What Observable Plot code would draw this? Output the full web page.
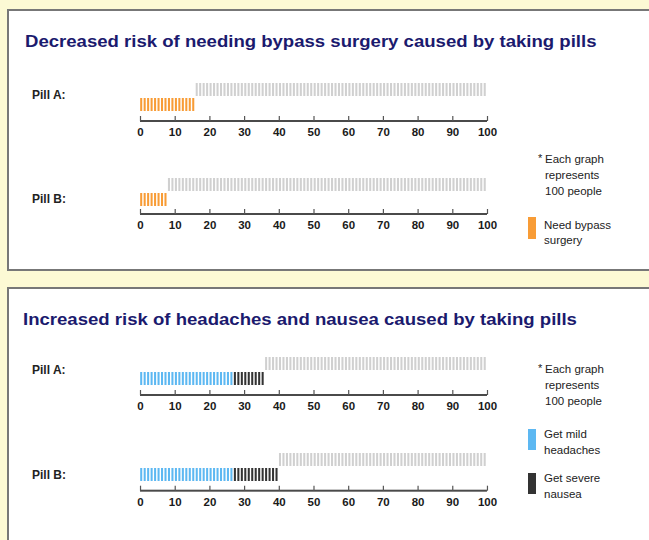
<!DOCTYPE html>
<html><head><meta charset="utf-8">
<script src="https://cdn.jsdelivr.net/npm/d3@7"></script>
<script src="https://cdn.jsdelivr.net/npm/@observablehq/plot@0.6"></script>
<style>
html,body{margin:0;padding:0;}
body{width:649px;height:540px;overflow:hidden;background:#fcf9d4;position:relative;font-family:"Liberation Sans",Arial,sans-serif;}
.panel{position:absolute;left:7px;width:660px;background:#fff;border:2px solid #777;box-sizing:border-box;}
.title{position:absolute;font-size:16px;font-weight:bold;color:#1b1a6e;line-height:16px;white-space:nowrap;transform-origin:0 0;transform:scaleX(1.16);}
.pill{position:absolute;left:32px;font-size:12px;font-weight:bold;color:#222;line-height:12px;white-space:nowrap;}
.note{position:absolute;left:545px;font-size:11.5px;line-height:15.8px;color:#222;white-space:nowrap;}
.note .ast{position:absolute;left:-7px;top:-1px;font-size:11px;}
.sw{position:absolute;left:528px;width:8px;}
.lt{position:absolute;left:544px;font-size:11.5px;line-height:15.5px;color:#222;white-space:nowrap;}
.chart{position:absolute;left:0;}
.chart svg{display:block;overflow:visible;}
</style>
</head><body>
<div class="panel" style="top:9px;height:262px;"></div>
<div class="panel" style="top:287px;height:300px;"></div>
<div id="root"></div>
<script>
// ---- data ----
const totalPeople = 100;
const pillLabels = ["Pill A:", "Pill B:"];
const titles = [
  "Decreased risk of needing bypass surgery caused by taking pills",
  "Increased risk of headaches and nausea caused by taking pills"
];
const noteLines = ["Each graph", "represents", "100 people"];
const bypassCategories = ["Need bypass surgery"];
const bypassLegendLines = [["Need bypass", "surgery"]];
const needBypass = [16, 8];          // Pill A, Pill B
const sideCategories = ["Get mild headaches", "Get severe nausea"];
const sideLegendLines = [["Get mild", "headaches"], ["Get severe", "nausea"]];
const mildHeadaches = [27, 27];      // Pill A, Pill B
const severeNausea = [9, 13];        // Pill A, Pill B
const xTicks = [0, 10, 20, 30, 40, 50, 60, 70, 80, 90, 100];
const restCategory = "Unaffected";

// ---- styles ----
const colorOf = {
  "Unaffected": "#d0d0d0",
  "Need bypass surgery": "#f89c36",
  "Get mild headaches": "#5db8f2",
  "Get severe nausea": "#333333"
};
const font = "'Liberation Sans', Arial, sans-serif";
const root = document.getElementById("root");

function place(html, cls, style) {
  const d = document.createElement("div");
  d.className = cls;
  d.setAttribute("style", style);
  d.innerHTML = html;
  root.appendChild(d);
  return d;
}

function row(segments, frameTop, frameH) {
  const bw = 13, gap = 2, step = bw + gap;
  const pIn = gap / step;
  const pOut = (frameH / step - 2 + pIn) / 2;
  const strokes = [];
  let affected = 0;
  for (const s of segments) {
    for (let k = 0; k < s.n; k++) strokes.push({i: affected + k, row: "affected", cat: s.cat});
    affected += s.n;
  }
  for (let k = affected; k < totalPeople; k++) strokes.push({i: k, row: "rest", cat: restCategory});
  const mt = 2, mb = 24;
  const cats = Object.keys(colorOf);
  const svg = Plot.plot({
    width: 520,
    height: mt + frameH + mb,
    marginLeft: 140,
    marginRight: 33,
    marginTop: mt,
    marginBottom: mb,
    style: {fontFamily: font, fontSize: "11.5px", fontWeight: "bold", color: "#1a1a1a", background: "transparent"},
    x: {domain: [0, totalPeople]},
    y: {type: "band", domain: ["rest", "affected"], paddingInner: pIn, paddingOuter: pOut, align: 0, round: false, axis: null},
    color: {domain: cats, range: cats.map(c => colorOf[c])},
    marks: [
      Plot.barX(strokes, {x1: d => d.i + 0.05, x2: d => d.i + 0.64, y: "row", fill: "cat"}),
      Plot.barX([totalPeople], {x1: 0, x2: d => d, insetTop: frameH - 1, insetBottom: -1, fill: "#4a4a4a"}),
      Plot.tickX(xTicks, {x: d => d, insetTop: frameH - 5, stroke: "#555", strokeWidth: 1.2}),
      Plot.axisX(xTicks, {tickSize: 0, tickPadding: 6.5, tickFormat: d => String(d)})
    ]
  });
  const wrap = place("", "chart", `top:${frameTop - mt}px;`);
  wrap.appendChild(svg);
}

// ---- panel 1 ----
place(titles[0], "title", "left:25px;top:34px;");
place(pillLabels[0], "pill", "top:89px;");
place(pillLabels[1], "pill", "top:193px;");
row(bypassCategories.map((c, j) => ({cat: c, n: [needBypass][j][0]})), 82.7, 38);
row(bypassCategories.map((c, j) => ({cat: c, n: [needBypass][j][1]})), 178.3, 36);
place('<span class="ast">*</span>' + noteLines.join("<br>"), "note", "top:152px;");
bypassCategories.forEach((c, j) => {
  place("", "sw", `top:${217 + j * 44}px;height:22px;background:${colorOf[c]};`);
  place(bypassLegendLines[j].join("<br>"), "lt", `top:${217.5 + j * 44}px;`);
});

// ---- panel 2 ----
place(titles[1], "title", "left:23px;top:312px;");
place(pillLabels[0], "pill", "top:364px;");
place(pillLabels[1], "pill", "top:469px;");
const sideSeries = [mildHeadaches, severeNausea];
row(sideCategories.map((c, j) => ({cat: c, n: sideSeries[j][0]})), 357, 38);
row(sideCategories.map((c, j) => ({cat: c, n: sideSeries[j][1]})), 453.3, 37.7);
place('<span class="ast">*</span>' + noteLines.join("<br>"), "note", "top:362px;");
const swTops = [429, 473.3];
const ltTops = [427.2, 471];
sideCategories.forEach((c, j) => {
  place("", "sw", `top:${swTops[j]}px;height:21px;background:${colorOf[c]};`);
  place(sideLegendLines[j].join("<br>"), "lt", `top:${ltTops[j]}px;`);
});
</script>
</body></html>
